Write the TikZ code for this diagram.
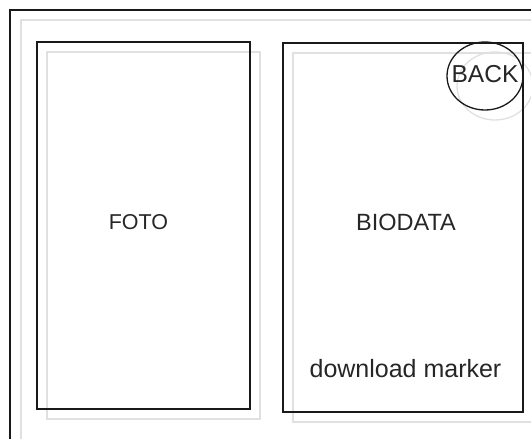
\documentclass[tikz,border=0pt]{standalone}
\usepackage{fontspec}
\setmainfont{Liberation Sans}
\usetikzlibrary{shapes.geometric}
\begin{document}
\begin{tikzpicture}[x=1pt,y=-1pt,
  ink/.style={draw=black!90,line width=1.3pt},
  shade/.style={draw=black!12,line width=1.3pt},
  lbl/.style={text=black!85,inner sep=0pt}]
\useasboundingbox (0,0) rectangle (531,439);
% outer frame (open to right and bottom)
\draw[shade] (21,445) -- (21,20) -- (540,20);
\draw[ink] (10,445) -- (10,10) -- (540,10);
% shadows
\draw[shade] (47,52) rectangle (260,419);
\draw[shade] (293,53) rectangle (533,422);
\draw[shade] (495,86) ellipse [x radius=38, y radius=34];
% boxes
\node[ink,rectangle,minimum width=213,minimum height=367,inner sep=0pt] (foto) at (143.5,225.5) {};
\node[ink,rectangle,minimum width=240,minimum height=369,inner sep=0pt] (bio) at (403,227.5) {};
\node[ink,ellipse,minimum width=76,minimum height=68,inner sep=0pt] (back) at (485,76) {};
% labels
\node[lbl,font=\fontsize{21.5}{24}\selectfont] (tfoto) at (138.5,222) {FOTO};
\node[lbl,font=\fontsize{23.5}{26}\selectfont] (tbio) at (406,222) {BIODATA};
\node[lbl,font=\fontsize{25}{28}\selectfont] (tdl) at (405.5,369) {download marker};
\node[lbl,font=\fontsize{24.5}{27}\selectfont] (tback) at (485,74) {BACK};
\end{tikzpicture}
\end{document}
